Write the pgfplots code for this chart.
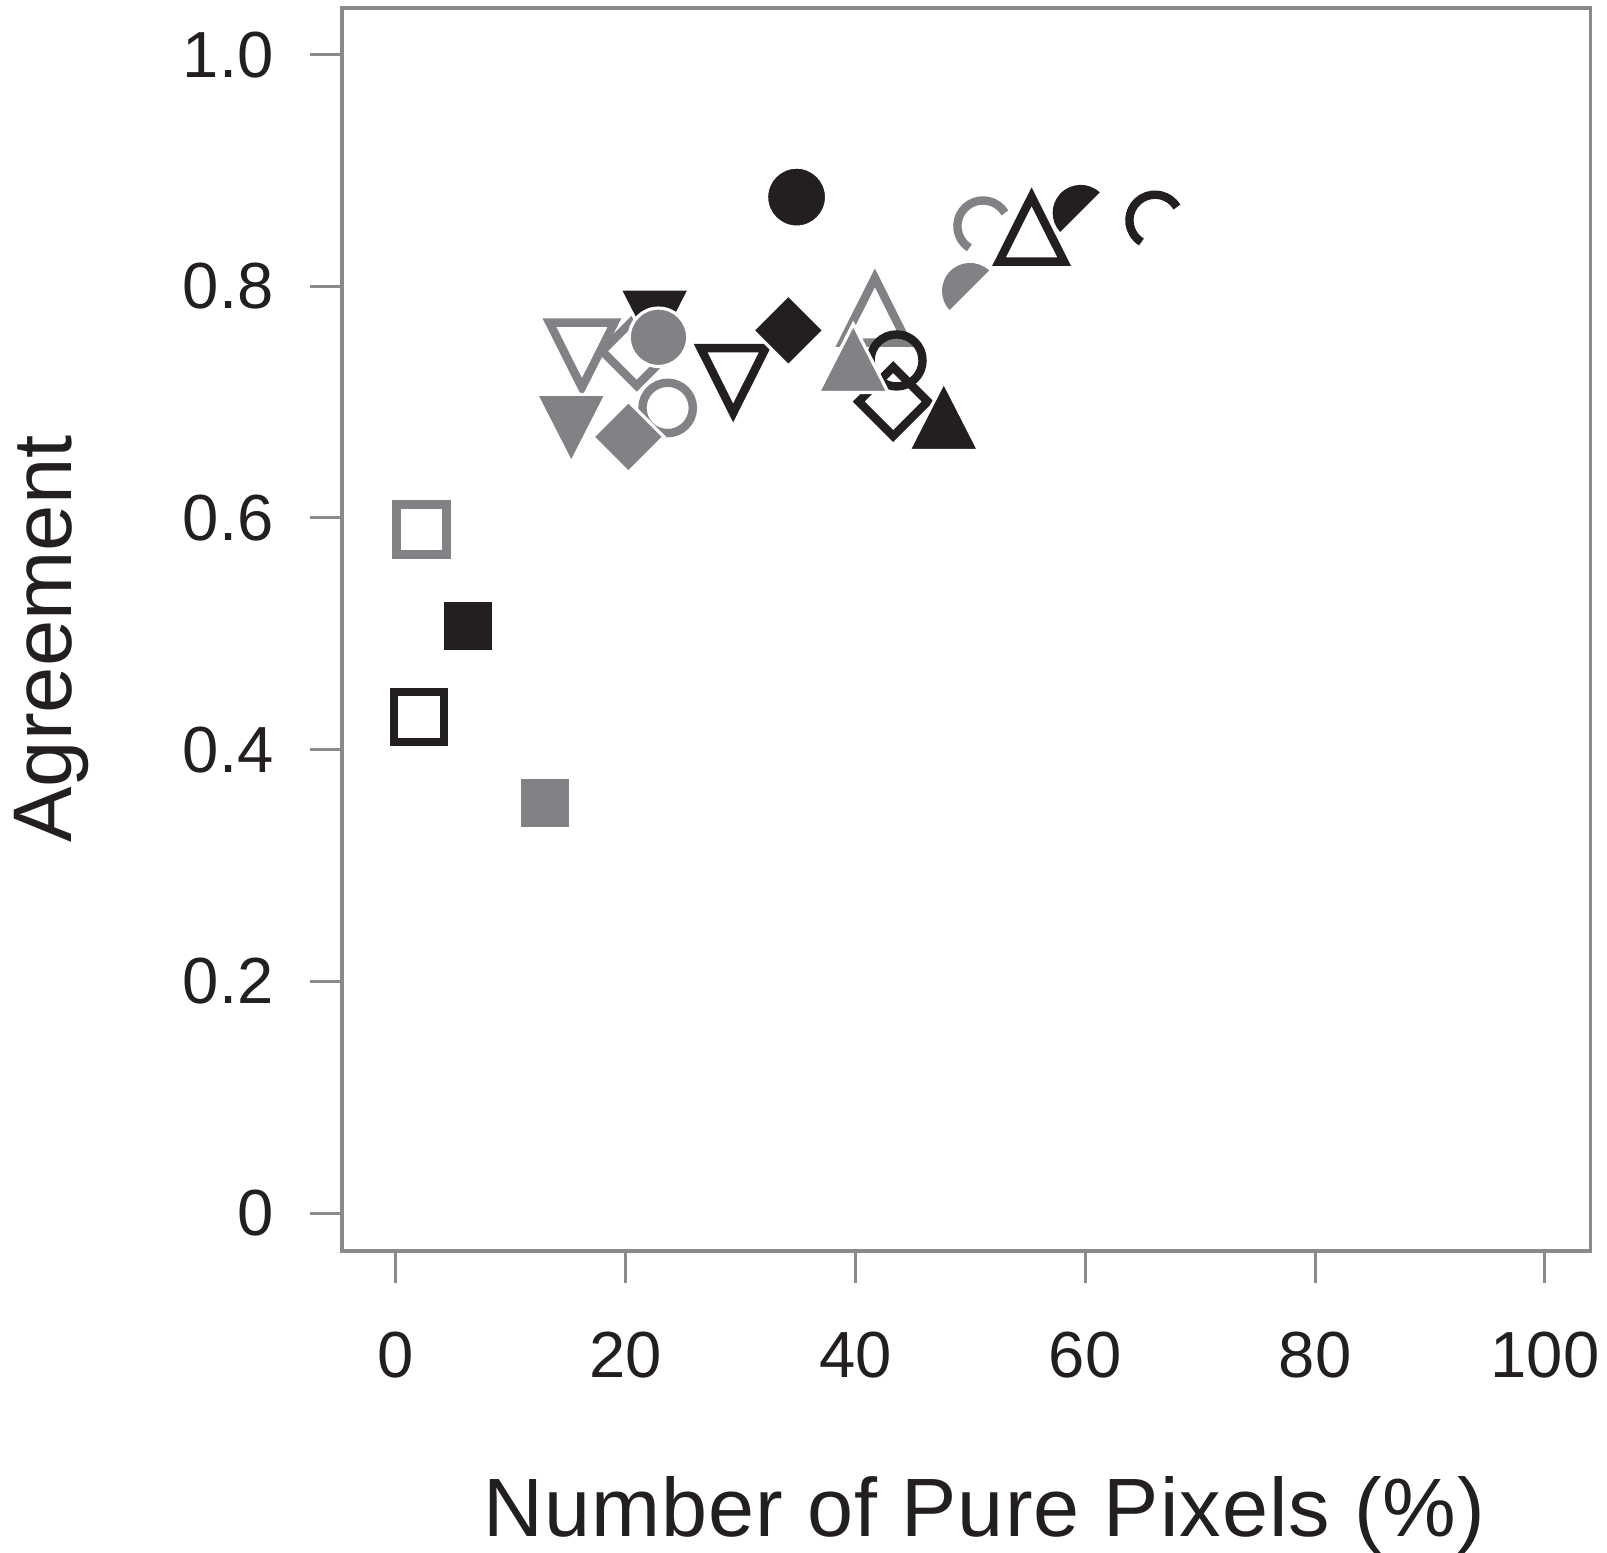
\documentclass[border=0pt]{standalone}
\usepackage{fontspec}
\setmainfont{Liberation Sans}
\newfontfamily\xlabfont[LetterSpace=1.3]{Liberation Sans}
\usepackage{pgfplots}
\pgfplotsset{compat=1.18}
\definecolor{cblack}{HTML}{231F20}
\definecolor{cgray}{HTML}{808285}
\definecolor{axgray}{HTML}{8A8A8A}

\pgfdeclareplotmark{halfdisc}{%
  \pgfpathmoveto{\pgfpointpolar{47}{\pgfplotmarksize}}%
  \pgfpatharc{47}{223}{\pgfplotmarksize}%
  \pgfpathclose
  \pgfusepathqfill}
\pgfdeclareplotmark{carc}{%
  \pgfpathmoveto{\pgfpointpolar{31}{\pgfplotmarksize}}%
  \pgfpatharc{31}{238}{\pgfplotmarksize}%
  \pgfusepathqstroke}

\pgfplotsset{
  fb/.style={only marks, mark options={solid, draw=white, fill=cblack, line width=0.8pt}},
  fg/.style={only marks, mark options={solid, draw=white, fill=cgray, line width=0.8pt}},
  ob/.style={only marks, mark options={solid, draw=cblack, line width=2.1pt}},
  og/.style={only marks, mark options={solid, draw=cgray, line width=2.1pt}},
  down/.style={every mark/.append style={rotate=180, yscale=#1}},
  up/.style={every mark/.append style={yscale=#1}},
  dia/.style={every mark/.append style={rotate=45}},
}

\begin{document}
\begin{tikzpicture}
\useasboundingbox (0,0) rectangle (401.75pt,388.25pt);
\begin{axis}[
  at={(85.5pt,75.5pt)}, anchor=south west,
  scale only axis, width=312.1pt, height=310.7pt,
  xmin=-4.68, xmax=103.96, ymin=-0.0328, ymax=1.0401,
  axis line style={draw=axgray, line width=0.9pt},
  tick align=outside, major tick length=7.9pt,
  major tick style={draw=axgray, line width=0.75pt},
  xtick={0,20,40,60,80,100}, xticklabels={0,20,40,60,80,100},
  ytick={0,0.2,0.4,0.6,0.8,1.0}, yticklabels={0,0.2,0.4,0.6,0.8,1.0},
  xtick pos=bottom, ytick pos=left,
  tick label style={font=\fontsize{16.3}{19}\selectfont, text=cblack},
  yticklabel style={anchor=east, inner sep=0pt, xshift=-9pt},
  xticklabel style={anchor=north, inner sep=0pt, yshift=-12.2pt},
  xlabel={Number of Pure Pixels (\%)},
  ylabel={Agreement},
  xlabel style={at={(axis description cs:0.5146,-0.2301)}, anchor=base, inner sep=0pt, font=\xlabfont\fontsize{20.7}{24}\selectfont, text=cblack},
  ylabel style={at={(axis description cs:-0.2166,0.4924)}, anchor=base, inner sep=0pt, font=\fontsize{20.8}{24}\selectfont, text=cblack},
  clip=false,
]
% open markers
\addplot[og, mark=square, mark size=6.25pt] coordinates {(2.24,0.590)};
\addplot[ob, mark=square, mark size=6.25pt] coordinates {(2.03,0.428)};
\addplot[og, down=1.15, mark=triangle, mark size=9.4pt] coordinates {(16.2,0.750)};
\addplot[og, dia, mark=square, mark size=6.1pt] coordinates {(20.96,0.744)};
\addplot[og, mark=o, mark size=6.3pt] coordinates {(23.66,0.695)};
\addplot[ob, down=1.15, mark=triangle, mark size=9.4pt] coordinates {(29.36,0.728)};
\addplot[og, up=1.15, mark=triangle, mark size=9.4pt] coordinates {(41.69,0.770)};
\addplot[ob, mark=o, mark size=6.5pt] coordinates {(43.58,0.736)};
\addplot[ob, dia, mark=square, mark size=6.1pt] coordinates {(43.29,0.7005)};
\addplot[ob, up=1.15, mark=triangle, mark size=9.4pt] coordinates {(55.33,0.840)};
\addplot[og, mark=carc, mark size=6.4pt] coordinates {(51.1,0.852)};
\addplot[ob, mark=carc, mark size=6.4pt] coordinates {(66.07,0.857)};
% filled markers
\addplot[fb, mark=*, mark size=7.5pt] coordinates {(34.88,0.877)};
\addplot[fb, mark=square*, mark size=6.33pt] coordinates {(6.28,0.5066)};
\addplot[fg, mark=square*, mark size=6.33pt] coordinates {(12.98,0.354)};
\addplot[fg, down=1.13, mark=triangle*, mark size=10.1pt] coordinates {(15.27,0.687)};
\addplot[fb, down=1.13, mark=triangle*, mark size=10.1pt] coordinates {(22.53,0.778)};
\addplot[fg, mark=*, mark size=7.3pt] coordinates {(22.86,0.756)};
\addplot[fg, dia, mark=square*, mark size=6.3pt] coordinates {(20.24,0.670)};
\addplot[fb, dia, mark=square*, mark size=6.3pt] coordinates {(34.16,0.762)};
\addplot[fg, up=1.13, mark=triangle*, mark size=10.1pt] coordinates {(39.81,0.728)};
\addplot[fb, up=1.13, mark=triangle*, mark size=10.1pt] coordinates {(47.69,0.678)};
\addplot[only marks, mark=halfdisc, mark size=7pt, mark options={fill=cgray}] coordinates {(49.97,0.796)};
\addplot[only marks, mark=halfdisc, mark size=7pt, mark options={fill=cblack}] coordinates {(59.6,0.8634)};
\end{axis}
\end{tikzpicture}
\end{document}
